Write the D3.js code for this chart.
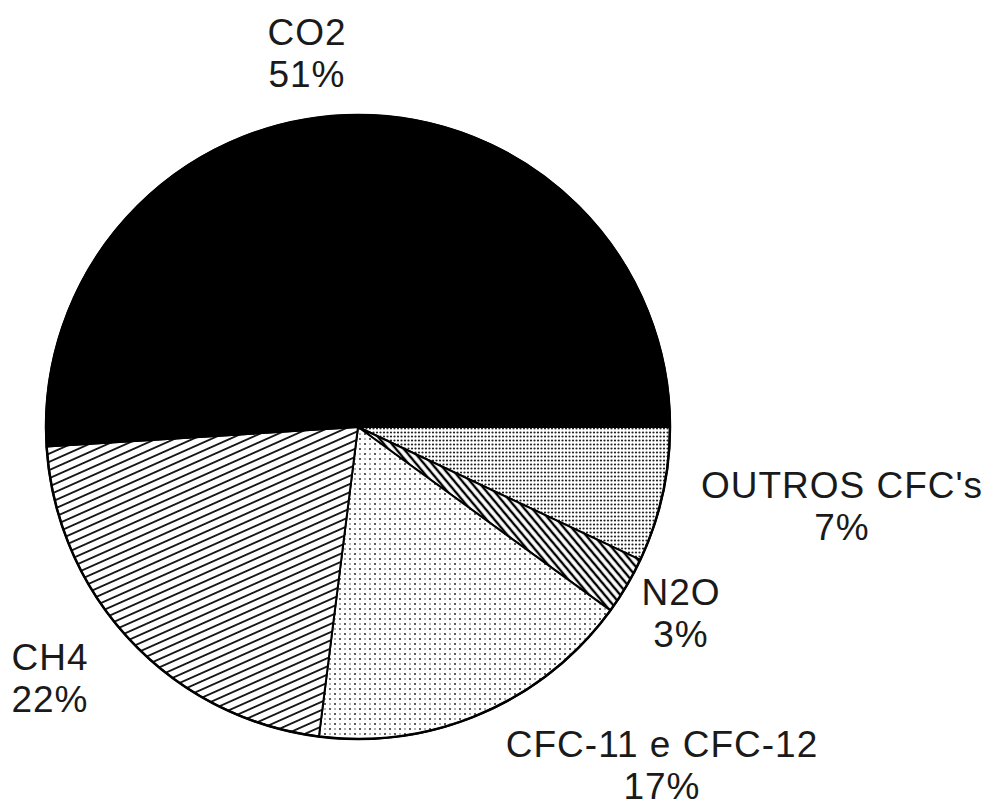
<!DOCTYPE html>
<html>
<head>
<meta charset="utf-8">
<script src="https://cdn.jsdelivr.net/npm/d3@7"></script>
<style>
  html, body { margin: 0; padding: 0; background: #fff; }
  svg { display: block; }
</style>
</head>
<body>
<div id="chart"></div>
<script>
// Gases, in clockwise order starting at 3 o'clock
const gases = ["OUTROS CFC's", "N2O", "CFC-11 e CFC-12", "CH4", "CO2"];
const shares = [7, 3, 17, 22, 51];
const pctLabels = ["7%", "3%", "17%", "22%", "51%"];

(function () {
  const WIDTH = 1000;
  const HEIGHT = 811;
  const cx = 358, cy = 427, R = 312;

  // label anchor positions (centre x, baseline of the name line)
  const labelPos = new Map([
    ["OUTROS CFC's", { x: 842, y: 498, anchor: "middle" }],
    ["N2O", { x: 681, y: 605, anchor: "middle" }],
    ["CFC-11 e CFC-12", { x: 662, y: 757, anchor: "middle" }],
    ["CH4", { x: 50, y: 670, anchor: "middle" }],
    ["CO2", { x: 307, y: 45, anchor: "middle" }],
  ]);
  const lineGap = 42;

  const fillFor = new Map([
    ["OUTROS CFC's", "url(#dotsDense)"],
    ["N2O", "url(#hatchBack)"],
    ["CFC-11 e CFC-12", "url(#dotsSparse)"],
    ["CH4", "url(#hatchFwd)"],
    ["CO2", "#000"],
  ]);

  const svg = d3.select("#chart").append("svg")
    .attr("width", WIDTH)
    .attr("height", HEIGHT);

  const defs = svg.append("defs");

  // dense dot grid (light gray look)
  const pd = defs.append("pattern")
    .attr("id", "dotsDense")
    .attr("patternUnits", "userSpaceOnUse")
    .attr("width", 7).attr("height", 4);
  pd.append("rect").attr("width", 7).attr("height", 4).attr("fill", "#fff");
  pd.append("circle").attr("cx", 1.5).attr("cy", 1.5).attr("r", 1.1).attr("fill", "#222");
  pd.append("circle").attr("cx", 5).attr("cy", 1.5).attr("r", 1.1).attr("fill", "#222");

  // sparse staggered dots
  const ps = defs.append("pattern")
    .attr("id", "dotsSparse")
    .attr("patternUnits", "userSpaceOnUse")
    .attr("width", 10).attr("height", 10);
  ps.append("rect").attr("width", 10).attr("height", 10).attr("fill", "#fff");
  ps.append("circle").attr("cx", 2).attr("cy", 2).attr("r", 1).attr("fill", "#222");
  ps.append("circle").attr("cx", 7).attr("cy", 7).attr("r", 1).attr("fill", "#222");
  ps.append("circle").attr("cx", 7).attr("cy", 2).attr("r", 0.75).attr("fill", "#444");
  ps.append("circle").attr("cx", 2).attr("cy", 7).attr("r", 0.75).attr("fill", "#444");

  // shallow "/" hatch for CH4
  const hf = defs.append("pattern")
    .attr("id", "hatchFwd")
    .attr("patternUnits", "userSpaceOnUse")
    .attr("width", 7.5).attr("height", 7.5)
    .attr("patternTransform", "rotate(-24)");
  hf.append("rect").attr("width", 7.5).attr("height", 7.5).attr("fill", "#fff");
  hf.append("line").attr("x1", 0).attr("y1", 3.75).attr("x2", 7.5).attr("y2", 3.75)
    .attr("stroke", "#000").attr("stroke-width", 1.7);

  // steep "\" hatch for N2O
  const hb = defs.append("pattern")
    .attr("id", "hatchBack")
    .attr("patternUnits", "userSpaceOnUse")
    .attr("width", 6).attr("height", 6)
    .attr("patternTransform", "rotate(50)");
  hb.append("rect").attr("width", 6).attr("height", 6).attr("fill", "#fff");
  hb.append("line").attr("x1", 0).attr("y1", 3).attr("x2", 6).attr("y2", 3)
    .attr("stroke", "#000").attr("stroke-width", 2.4);

  const data = gases.map((g, i) => ({ gas: g, value: shares[i], pct: pctLabels[i] }));

  const pie = d3.pie()
    .sort(null)
    .value(d => d.value)
    .startAngle(Math.PI / 2)
    .endAngle(Math.PI / 2 + 2 * Math.PI);

  const arc = d3.arc().innerRadius(0).outerRadius(R);

  const g = svg.append("g")
    .attr("transform", `translate(${cx},${cy})`);

  g.selectAll("path.slice")
    .data(pie(data))
    .enter()
    .append("path")
    .attr("class", "slice")
    .attr("d", arc)
    .attr("fill", d => fillFor.get(d.data.gas))
    .attr("stroke", "#000")
    .attr("stroke-width", 2)
    .attr("stroke-linejoin", "round");

  g.append("circle")
    .attr("r", R)
    .attr("fill", "none")
    .attr("stroke", "#000")
    .attr("stroke-width", 2.5);

  // labels
  const labels = svg.append("g")
    .style("font-family", "'Liberation Sans', Arial, sans-serif")
    .style("font-size", "37px")
    .style("letter-spacing", "1px")
    .style("fill", "#1a1a1a");

  data.forEach(d => {
    const p = labelPos.get(d.gas);
    labels.append("text")
      .attr("x", p.x).attr("y", p.y)
      .attr("text-anchor", p.anchor)
      .text(d.gas);
    labels.append("text")
      .attr("x", p.x).attr("y", p.y + lineGap)
      .attr("text-anchor", p.anchor)
      .text(d.pct);
  });
})();
</script>
</body>
</html>
